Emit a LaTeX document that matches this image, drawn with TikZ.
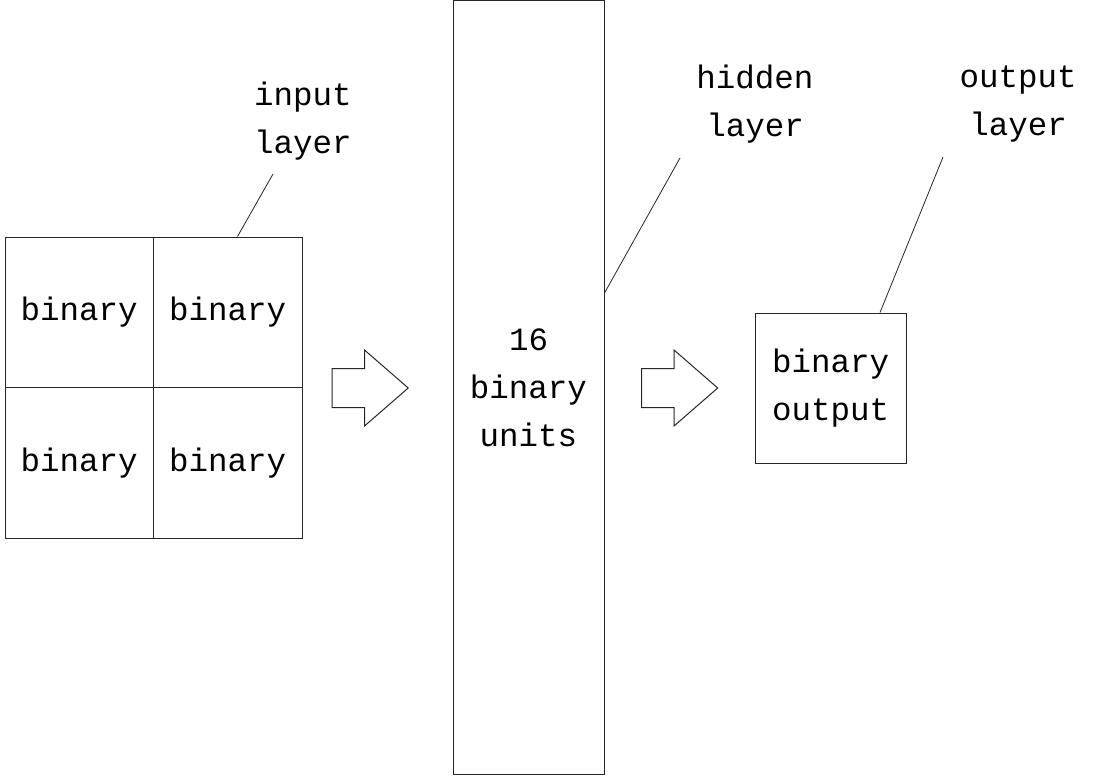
\documentclass[tikz,border=0pt]{standalone}
\usepackage{fontspec}
\setmainfont{Liberation Mono}
\usetikzlibrary{shapes.arrows}
\begin{document}
\begin{tikzpicture}[x=1pt,y=-1pt,
    every node/.style={font=\fontsize{32.5}{48}\selectfont, align=center},
    cell/.style={draw=black!85, line width=1pt, minimum width=148.5pt, minimum height=150.5pt, inner sep=0pt},
    blockarrow/.style={draw=black!85, line width=1pt, single arrow, single arrow head extend=18.5pt,
      single arrow tip angle=82, minimum height=76pt, minimum width=75pt, inner xsep=0pt, inner ysep=19pt},
    lead/.style={line width=0.8pt, black!85}]
    \useasboundingbox (0,0) rectangle (1100,776);
    % input layer
    \node[cell] (c11) at (79.25,312.25) {binary};
    \node[cell] (c12) at (227.75,312.25) {binary};
    \node[cell] (c21) at (79.25,462.75) {binary};
    \node[cell] (c22) at (227.75,462.75) {binary};
    \node (inlabel) at (303,121) {input\\layer};
    \coordinate (inlead) at (273,174);
    \draw[lead] ([xshift=84.5pt]c12.north west) -- (inlead);
    \node[blockarrow] (arrow1) at (359,388) {};
    % hidden layer
    \node[draw=black!85, line width=1pt, minimum width=151pt, minimum height=773pt] (hidden) at (528.5,387.5) {16\\binary\\units};
    \node (hidlabel) at (755,104) {hidden\\layer};
    \coordinate (hidlead) at (680,158);
    \draw[lead] ([yshift=94.5pt]hidden.east) -- (hidlead);
    \node[blockarrow] (arrow2) at (668.5,388) {};
    % output layer
    \node[draw=black!85, line width=1pt, minimum width=151pt, minimum height=150pt] (outbox) at (830.5,388) {binary\\output};
    \node (outlabel) at (1018,104) {output\\layer};
    \coordinate (outlead) at (943,157);
    \draw[lead] ([xshift=49.5pt]outbox.north) -- (outlead);
\end{tikzpicture}
\end{document}
